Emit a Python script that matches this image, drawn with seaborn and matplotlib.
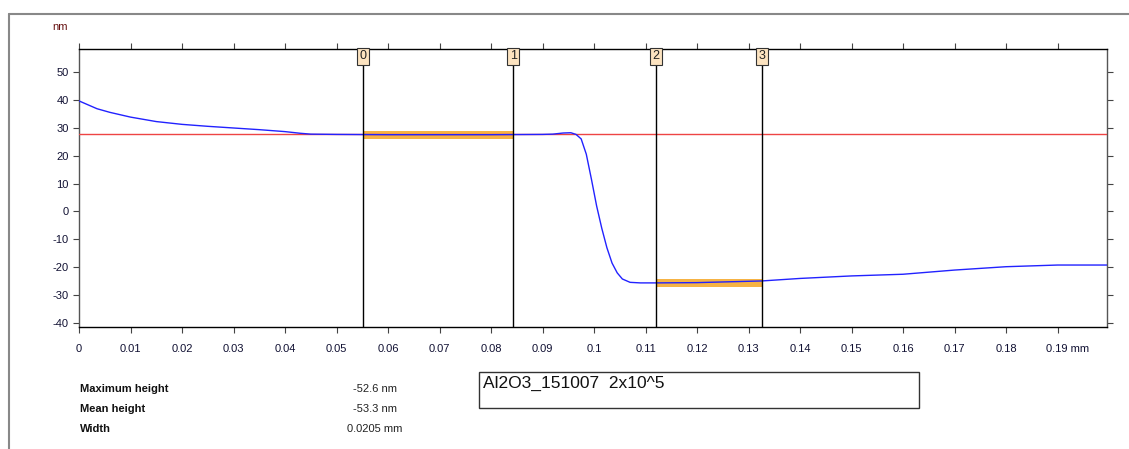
import numpy as np
import pandas as pd
import matplotlib
matplotlib.use("Agg")
import matplotlib.pyplot as plt
import matplotlib.transforms as mtrans
import seaborn as sns
from matplotlib.patches import Rectangle

# profile data (mm, nm)
x_mm = [0, 0.0035, 0.006, 0.01, 0.015, 0.02, 0.025, 0.03, 0.035, 0.04, 0.043, 0.045,
        0.05, 0.06, 0.07, 0.08, 0.09, 0.092, 0.094, 0.0955, 0.0965, 0.0975, 0.0985,
        0.0995, 0.1005, 0.1015, 0.1025, 0.1035, 0.1045, 0.1055, 0.107, 0.109, 0.112,
        0.12, 0.1326, 0.14, 0.15, 0.16, 0.17, 0.18, 0.19, 0.1996]
height_nm = [39.6, 36.8, 35.5, 33.8, 32.2, 31.2, 30.5, 29.9, 29.3, 28.6, 28.0, 27.7,
             27.6, 27.5, 27.5, 27.5, 27.6, 27.7, 28.1, 28.2, 27.6, 26.0, 20.5,
             11.5, 2.0, -6.0, -13.0, -18.5, -22.0, -24.2, -25.4, -25.6, -25.6,
             -25.5, -24.9, -24.0, -23.1, -22.5, -21.0, -19.8, -19.2, -19.2]

reference_level = 27.8
cursor_pos = [0.05515, 0.0843, 0.11204, 0.1326]
cursor_names = ["0", "1", "2", "3"]
band_levels = [27.4, -25.7]

stat_names = ["Maximum height", "Mean height", "Width"]
stat_values = ["-52.6 nm", "-53.3 nm", "0.0205 mm"]
sample_label = "Al2O3_151007  2x10^5"

sns.set_style("white")
plt.rcParams["font.family"] = ["Liberation Sans", "DejaVu Sans"]
plt.rcParams["axes.unicode_minus"] = False

df = pd.DataFrame({"x": x_mm, "h": height_nm})

fig = plt.figure(figsize=(11.29, 4.49), dpi=100)
ax = fig.add_axes([79 / 1129, 1 - 327 / 449, 1028 / 1129, 278 / 449])

# outer frame (top and left edges)
fig.add_artist(plt.Line2D([9 / 1129, 1], [1 - 14 / 449, 1 - 14 / 449], color="#888888", lw=1.5))
fig.add_artist(plt.Line2D([9 / 1129, 9 / 1129], [0, 1 - 14 / 449], color="#888888", lw=1.5))

# highlighted segments between cursor pairs
for (a, b), lev in zip([(0, 1), (2, 3)], band_levels):
    ax.fill_between([cursor_pos[a], cursor_pos[b]], lev - 1.5, lev + 1.5,
                    color="#F5A623", alpha=0.85, lw=0, zorder=2)

ax.axhline(reference_level, color="#EE4444", lw=1, zorder=3)
sns.lineplot(data=df, x="x", y="h", ax=ax, color="#2222FF", lw=1, zorder=4)

for pos, name in zip(cursor_pos, cursor_names):
    ax.axvline(pos, color="black", lw=1, zorder=5)
    ax.text(pos, 55.6, name, ha="center", va="center", fontsize=9, color="#222222",
            bbox=dict(boxstyle="square,pad=0.2", fc="#FCE3C0", ec="#333333", lw=0.8),
            zorder=6)

ax.set_xlim(0, 0.1996)
ax.set_ylim(-41.4, 58.2)
ax.set_xlabel("")
ax.set_ylabel("")

xt = np.round(np.arange(0, 0.195, 0.01), 2)
ax.set_xticks(xt)
xl = ["0"] + [f"{v:g}" for v in xt[1:]]
xl[-1] = "0.19 mm"
ax.set_xticklabels(xl)
ax.set_yticks(range(-40, 51, 10))

ax.tick_params(axis="both", direction="out", length=4, width=0.8, labelsize=8,
               colors="#444444", labelcolor="#111133")
ax.tick_params(top=True, right=True, bottom=True, left=True)
for side in ["top", "bottom"]:
    ax.spines[side].set_color("black")
for side in ["left", "right"]:
    ax.spines[side].set_color("#555555")
for s in ax.spines.values():
    s.set_linewidth(1)
ax.xaxis.set_tick_params(pad=8)

# shift last label so "0.19" sits on its tick
last = ax.get_xticklabels()[-1]
last.set_transform(last.get_transform() + mtrans.ScaledTranslation(10 / 100, 0, fig.dpi_scale_trans))

fig.text(60 / 1129, 1 - 27 / 449, "nm", fontsize=8, color="#661111", ha="center", va="center")

for i, (n, v) in enumerate(zip(stat_names, stat_values)):
    y = 1 - (389 + i * 20) / 449
    fig.text(80 / 1129, y, n, fontsize=8, fontweight="bold", color="#111111", va="center")
    fig.text(375 / 1129, y, v, fontsize=8, color="#222222", va="center", ha="center")

fig.add_artist(Rectangle((479 / 1129, 1 - 408 / 449), 440 / 1129, 36 / 449,
                         transform=fig.transFigure, fill=False, ec="#333333", lw=1))
fig.text(483 / 1129, 1 - 383 / 449, sample_label, fontsize=12.5, color="#111111", va="center")

fig.savefig("out.png", dpi=100)
